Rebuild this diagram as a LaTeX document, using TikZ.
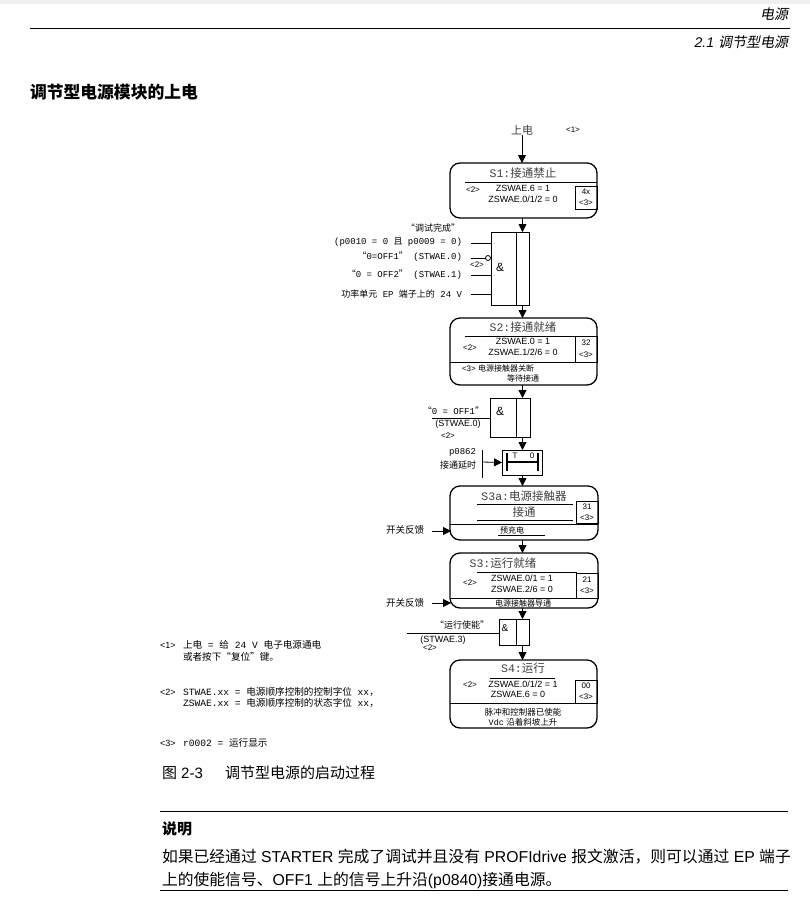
\documentclass[tikz,border=0pt]{standalone}
\usepackage{fontspec}
\setmainfont{Liberation Sans}
\newfontfamily\cjk{Noto Sans CJK SC}
\newfontfamily\cjksl{Noto Sans CJK SC}[FakeSlant=0.2]
\newfontfamily\mono{Liberation Mono}
\usetikzlibrary{arrows.meta}
\newcommand\zh[1]{{\cjk #1}}
\newcommand\fs[1]{\fontsize{#1}{#1}\selectfont}
\begin{document}
\begin{tikzpicture}[x=1pt,y=-1pt,
  every node/.style={inner sep=0pt, outer sep=0pt},
  sbox/.style={draw, line width=1.3pt, rounded corners=10pt, minimum width=147pt},
  gate/.style={draw, line width=0.8pt},
  ln/.style={line width=0.8pt},
  arr/.style={line width=0.8pt, -{Triangle[length=8pt,width=8pt]}},
  small/.style={font=\fs{8}},
  zs/.style={font=\fs{9}},
  ttl/.style={font=\fs{11.5}, text=black!75},
  lab/.style={font=\mono\fs{9}, anchor=east},
  note/.style={font=\mono\fs{9.6}, anchor=west},
  body/.style={font=\fs{15.8}, anchor=west}]
\useasboundingbox (0,0) rectangle (810,902);
\fill[white] (0,0) rectangle (810,902);
\fill[black!6] (0,0) rectangle (810,4);

% header
\draw[line width=1pt] (30,28) -- (790,28);
\node[anchor=east, font=\fs{14}] (hd1) at (788,14) {\cjksl 电源};
\node[anchor=east, font=\fs{14}] (hd2) at (788,42) {\textit{2.1} {\cjksl 调节型电源}};
\node[anchor=west, font=\cjk\bfseries\fs{16.8}] (head) at (30,92) {调节型电源模块的上电};

% power on
\node[font=\cjk\fs{11}, text=black!75] (pwr) at (522,130) {上电};
\node[small] (n1) at (573,130) {<1>};

% S1
\node[sbox, minimum height=55pt] (s1) at (523.5,190.5) {};
\node[ttl] (s1t) at (523,173) {{\mono S1:}\zh{接通禁止}};
\draw[ln] (465,182) -- (597,182);
\node[small] (s1r) at (473,190) {<2>};
\node[zs] (s1a) at (523,188) {ZSWAE.6 = 1};
\node[zs] (s1b) at (523,199) {ZSWAE.0/1/2 = 0};
\draw[ln] (575,186) rectangle (597,209);
\node[small] (s1c) at (586,192) {4x};
\node[small] (s1d) at (586,203) {<3>};
\draw[arr] (pwr) -- (pwr |- s1.north);

% AND 1
\node[gate, minimum width=38pt, minimum height=73pt] (and1) at (510,268.5) {};
\draw[ln] (516,232) -- (516,305);
\node[font=\fs{12}] (amp1) at (500,267) {\&};
\draw[arr] (s1.south -| 522.5,0) -- (522.5,232);
\node[lab, font=\cjk\fs{9}] (l0) at (460,228) {“调试完成”};
\node[lab] (l1) at (462,242) {(p0010 = 0 \zh{且} p0009 = 0)};
\node[lab] (l2) at (462,257) {\zh{“}0=OFF1\zh{”} (STWAE.0)};
\node[small] (l2r) at (477,265) {<2>};
\node[lab] (l3) at (462,275) {\zh{“}0 = OFF2\zh{”} (STWAE.1)};
\node[lab] (l4) at (462,294) {\zh{功率单元} EP \zh{端子上的} 24 V};
\coordinate (i1) at (471,243);
\coordinate (i2) at (471,258);
\coordinate (i3) at (471,275);
\coordinate (i4) at (471,294);
\draw[ln] (i1) -- (i1 -| and1.west);
\draw[ln] (i2) -- (485.5,258);
\draw[ln] (488,258) circle (2.5);
\draw[ln] (i3) -- (i3 -| and1.west);
\draw[ln] (i4) -- (i4 -| and1.west);

% S2
\node[sbox, minimum height=67pt] (s2) at (523.5,351.5) {};
\draw[arr] (522.5,305) -- (522.5,318);
\node[ttl] (s2t) at (523,327) {{\mono S2:}\zh{接通就绪}};
\draw[ln] (465,336) -- (597,336);
\node[small] (s2r) at (470,348) {<2>};
\node[zs] (s2a) at (523,341) {ZSWAE.0 = 1};
\node[zs] (s2b) at (523,352) {ZSWAE.1/2/6 = 0};
\draw[ln] (575,336) rectangle (597,362);
\node[small] (s2c) at (586,343) {32};
\node[small] (s2d) at (586,355) {<3>};
\draw[ln] (450,362) -- (597,362);
\node[small, anchor=west] (s2e) at (462,368) {<3> {\cjk 电源接触器关断}};
\node[font=\cjk\fs{8}] (s2f) at (523,378) {等待接通};

% AND 2
\node[gate, minimum width=40pt, minimum height=39pt] (and2) at (510,417.5) {};
\draw[ln] (516,398) -- (516,437);
\node[font=\fs{12}] (amp2) at (500,411) {\&};
\draw[arr] (522.5,385) -- (522.5,398);
\coordinate (i5) at (432,418);
\draw[ln] (i5) -- (i5 -| and2.west);
\node[lab] (l5) at (484,411) {\zh{“}0 = OFF1\zh{”}};
\node[zs] (l6) at (458,424) {(STWAE.0)};
\node[small] (l7) at (448,436) {<2>};

% timer
\node[gate, minimum width=40pt, minimum height=25pt] (tim) at (522,462.5) {};
\draw[arr] (522.5,437) -- (tim.north -| 522.5,0);
\draw[line width=2pt] (507,453) -- (507,471);
\draw[line width=2pt] (538,453) -- (538,471);
\draw[line width=2pt] (507,462) -- (538,462);
\node[small] (tT) at (515,456) {T};
\node[small] (t0) at (532,456) {0};
\draw[ln] (482,450) -- (482,478);
\coordinate (tin) at (482,462);
\draw[arr] (tin) -- (tim.west);
\node[lab] (l8) at (476,452) {p0862};
\node[lab, font=\cjk\fs{9}] (l9) at (476,465) {接通延时};

% S3a
\node[sbox, minimum height=54pt, minimum width=148pt] (s3a) at (524,513) {};
\draw[arr] (522.5,475) -- (522.5,486);
\node[ttl] (s3at) at (524,496) {{\mono S3a:}\zh{电源接触器}};
\draw[ln] (477,504) -- (573,504);
\node[ttl, font=\cjk\fs{11.5}] (s3au) at (524,512) {接通};
\draw[ln] (477,520) -- (573,520);
\draw[ln] (576,501) rectangle (598,523);
\node[small] (s3ac) at (587,507) {31};
\node[small] (s3ad) at (587,518) {<3>};
\draw[ln] (450,524) -- (598,524);
\node[font=\cjk\fs{8}] (s3ae) at (512,530) {预充电};
\draw[ln] (498,535) -- (545,535);
\node[anchor=east, font=\cjk\fs{9.5}] (fb1) at (424,530) {开关反馈};
\coordinate (f1) at (432,531);
\draw[arr] (f1) -- (451,531);

% S3
\node[sbox, minimum height=55pt, minimum width=148pt] (s3) at (524,580.5) {};
\draw[arr] (522.5,540) -- (522.5,553);
\node[ttl] (s3t) at (503,563) {{\mono S3:}\zh{运行就绪}};
\draw[ln] (477,572) -- (577,572);
\node[small] (s3r) at (470,583) {<2>};
\node[zs] (s3a1) at (522,578) {ZSWAE.0/1 = 1};
\node[zs] (s3b) at (522,589) {ZSWAE.2/6 = 0};
\draw[ln] (576,573) rectangle (598,598);
\node[small] (s3c) at (587,580) {21};
\node[small] (s3d) at (587,591) {<3>};
\draw[ln] (450,598) -- (598,598);
\node[font=\cjk\fs{8}] (s3e) at (523,603) {电源接触器导通};
\node[anchor=east, font=\cjk\fs{9.5}] (fb2) at (424,603) {开关反馈};
\coordinate (f2) at (432,603);
\draw[arr] (f2) -- (451,603);

% AND 3
\node[gate, minimum width=30pt, minimum height=26pt] (and3) at (514,632) {};
\draw[ln] (516,619) -- (516,645);
\node[font=\fs{10}] (amp3) at (505,628) {\&};
\draw[arr] (522.5,608) -- (522.5,619);
\coordinate (i6) at (407,633);
\draw[ln] (i6) -- (i6 -| and3.west);
\node[font=\cjk\fs{9}] (l10) at (462,625) {“运行使能”};
\node[zs] (l11) at (443,640) {(STWAE.3)};
\node[small] (l12) at (430,648) {<2>};

% S4
\node[sbox, minimum height=68pt] (s4) at (523.5,694) {};
\draw[arr] (522.5,645) -- (522.5,660);
\node[ttl] (s4t) at (523,668) {{\mono S4:}\zh{运行}};
\draw[ln] (490,678) -- (555,678);
\node[small] (s4r) at (470,685) {<2>};
\node[zs] (s4a) at (523,684) {ZSWAE.0/1/2 = 1};
\node[zs] (s4b) at (518,694) {ZSWAE.6 = 0};
\draw[ln] (575,680) rectangle (597,703);
\node[small] (s4c) at (586,686) {00};
\node[small] (s4d) at (586,697) {<3>};
\draw[ln] (450,703) -- (597,703);
\node[font=\cjk\fs{8.5}] (s4e) at (523,712) {脉冲和控制器已使能};
\node[font=\fs{8.5}] (s4f) at (523,722) {{\mono Vdc} {\cjk 沿着斜坡上升}};

% notes
\node[font=\fs{9}, anchor=west] (m1) at (160,645) {<1>};
\node[note] (m1a) at (183,645) {\zh{上电} = \zh{给} 24 V \zh{电子电源通电}};
\node[note] (m1b) at (183,657) {\zh{或者按下“复位”键。}};
\node[font=\fs{9}, anchor=west] (m2) at (160,692) {<2>};
\node[note] (m2a) at (183,692) {STWAE.xx = \zh{电源顺序控制的控制字位} xx\zh{，}};
\node[note] (m2b) at (183,703) {ZSWAE.xx = \zh{电源顺序控制的状态字位} xx\zh{，}};
\node[font=\fs{9}, anchor=west] (m3) at (160,743) {<3>};
\node[note] (m3a) at (183,743) {r0002 = \zh{运行显示}};

% caption & remark
\node[body, font=\fs{15}] (cap1) at (162,773) {\zh{图} 2-3};
\node[body, font=\fs{15}] (cap2) at (225,773) {\zh{调节型电源的启动过程}};
\draw[line width=1pt] (160,811) -- (788,811);
\node[anchor=west, font=\cjk\bfseries\fs{15}] (rem) at (162,829) {说明};
\node[body] (b1) at (162,857) {\zh{如果已经通过} STARTER \zh{完成了调试并且没有} PROFIdrive \zh{报文激活，则可以通过} EP \zh{端子}};
\node[body] (b2) at (162,880) {\zh{上的使能信号、}OFF1 \zh{上的信号上升沿}(p0840)\zh{接通电源。}};
\draw[line width=1pt] (160,890) -- (788,890);
\end{tikzpicture}
\end{document}
